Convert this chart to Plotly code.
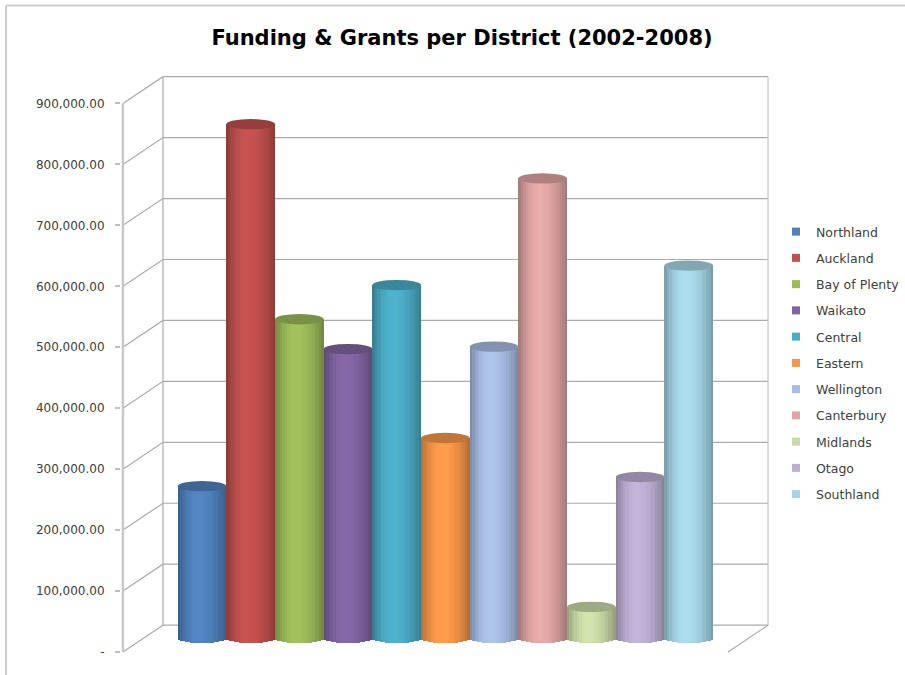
import math
import plotly.graph_objects as go

# ---------------- data ----------------
districts = ["Northland", "Auckland", "Bay of Plenty", "Waikato", "Central", "Eastern",
             "Wellington", "Canterbury", "Midlands", "Otago", "Southland"]
funding = [249000, 843000, 523000, 474000, 579000, 328000,
           478000, 754000, 51000, 264000, 611000]
colors = ["#4F81BD", "#C0504D", "#9BBB59", "#8064A2", "#4BACC6", "#F79646",
          "#A7BDE3", "#DFA5A4", "#C9DBA7", "#BCAED2", "#A5D6E5"]
tick_values = [0, 100000, 200000, 300000, 400000, 500000, 600000, 700000, 800000, 900000]
tick_labels = ["-", "100,000.00", "200,000.00", "300,000.00", "400,000.00", "500,000.00",
               "600,000.00", "700,000.00", "800,000.00", "900,000.00"]
title_text = "Funding & Grants per District (2002-2008)"

# ---------------- 3D-look geometry (style constants) ----------------
UX = 48.64            # px per category unit
XF = -1.625           # front-left corner (category units)
XB = XF + 40 / UX     # back-left corner
XR = 11.63            # back-right corner
XFR = XR - 40 / UX    # front-right corner
DY = 44000            # depth offset of the back wall (value units)
BASE0 = 23000         # bar bottom level (value units)
RY = 8500             # ellipse half height (value units)
N_STRIPS = 20

def hex_rgb(h):
    h = h.lstrip("#")
    return tuple(int(h[i:i + 2], 16) for i in (0, 2, 4))

def shade(h, f):
    r, g, b = hex_rgb(h)
    return "rgb(%d,%d,%d)" % tuple(max(0, min(255, int(round(c * f)))) for c in (r, g, b))

def profile(u):
    pk = 0.42
    w = 0.5 * u / pk if u < pk else 0.5 + 0.5 * (u - pk) / (1 - pk)
    return 0.70 + 0.34 * math.sin(math.pi * w) ** 0.8

fig = go.Figure()

# legend entries
for name, col in zip(districts, colors):
    fig.add_trace(go.Scatter(x=[None], y=[None], mode="markers", name=name,
                             legendgroup=name,
                             marker=dict(symbol="square", size=8, color=col)))

# cylinder bodies as vertical shaded strips
for i, (name, val, col) in enumerate(zip(districts, funding, colors)):
    top = BASE0 + val
    for k in range(N_STRIPS):
        u = (k + 0.5) / N_STRIPS
        base_k = BASE0 - RY * math.sqrt(max(0.0, 1 - (2 * u - 1) ** 2))
        fig.add_trace(go.Bar(
            x=[i], y=[top - base_k], base=[base_k],
            width=1.0 / N_STRIPS + 0.004, offset=-0.5 + k / N_STRIPS,
            marker=dict(color=shade(col, profile(u)), line=dict(width=0)),
            showlegend=False, legendgroup=name, hoverinfo="skip"))

shapes = []
# back wall gridlines with diagonal links to the front axis
for v in tick_values:
    shapes.append(dict(type="path", xref="x", yref="y", layer="below",
                       path="M%f,%f L%f,%f L%f,%f" % (XF, v, XB, v + DY, XR, v + DY),
                       line=dict(color="#ababab", width=1.2)))
# wall edges
shapes.append(dict(type="line", xref="x", yref="y", layer="below",
                   x0=XB, y0=DY, x1=XB, y1=tick_values[-1] + DY,
                   line=dict(color="#ababab", width=1.2)))
shapes.append(dict(type="line", xref="x", yref="y", layer="below",
                   x0=XR, y0=DY, x1=XR, y1=tick_values[-1] + DY,
                   line=dict(color="#c4c4c4", width=1.2)))
shapes.append(dict(type="line", xref="x", yref="y", layer="below",
                   x0=XFR, y0=0, x1=XR, y1=DY,
                   line=dict(color="#ababab", width=1.2)))
# front value axis
shapes.append(dict(type="line", xref="x", yref="y", layer="below",
                   x0=XF, y0=0, x1=XF, y1=tick_values[-1],
                   line=dict(color="#c8c8c8", width=2.5)))
# cylinder tops
for i, (val, col) in enumerate(zip(funding, colors)):
    top = BASE0 + val
    shapes.append(dict(type="circle", xref="x", yref="y", layer="above",
                       x0=i - 0.5, x1=i + 0.5, y0=top - RY, y1=top + RY,
                       fillcolor=shade(col, 0.78), line=dict(width=0)))
# chart area border (left and top)
shapes.append(dict(type="line", xref="paper", yref="paper",
                   x0=(6 - 121) / 649.0, x1=(6 - 121) / 649.0,
                   y0=(675 - 20 - 5) / 582.5, y1=-20 / 582.5,
                   line=dict(color="#cccccc", width=2)))
shapes.append(dict(type="line", xref="paper", yref="paper",
                   x0=(6 - 121) / 649.0, x1=(905 - 121) / 649.0,
                   y0=(675 - 20 - 5) / 582.5, y1=(675 - 20 - 5) / 582.5,
                   line=dict(color="#cccccc", width=2)))

fig.update_layout(
    width=905, height=675,
    margin=dict(l=121, r=135, t=72.5, b=20, autoexpand=False),
    paper_bgcolor="white", plot_bgcolor="white",
    barmode="overlay", bargap=0,
    showlegend=True,
    title=dict(text="<b>%s</b>" % title_text, xref="container", yref="container",
               x=462 / 905, y=1 - 38 / 675, xanchor="center", yanchor="middle",
               font=dict(family="DejaVu Sans", size=21, color="#000000")),
    xaxis=dict(range=[XF - 0.04, XR + 0.04], showgrid=False, zeroline=False,
               showticklabels=False, ticks="", showline=False, fixedrange=True),
    yaxis=dict(range=[-5000, 950000], showgrid=False, zeroline=False, showline=False,
               tickvals=tick_values, ticktext=tick_labels, ticks="outside", ticklen=5,
               tickcolor="#bfbfbf", tickwidth=1.5, ticklabelstandoff=8,
               tickfont=dict(family="DejaVu Sans", size=12, color="#404040")),
    legend=dict(xref="container", yref="container", x=776 / 905, y=1 - 217 / 675,
                xanchor="left", yanchor="top", tracegroupgap=7,
                font=dict(family="DejaVu Sans", size=12.5, color="#404040"),
                bgcolor="rgba(0,0,0,0)"),
    shapes=shapes,
)

fig.write_html("out.html")
